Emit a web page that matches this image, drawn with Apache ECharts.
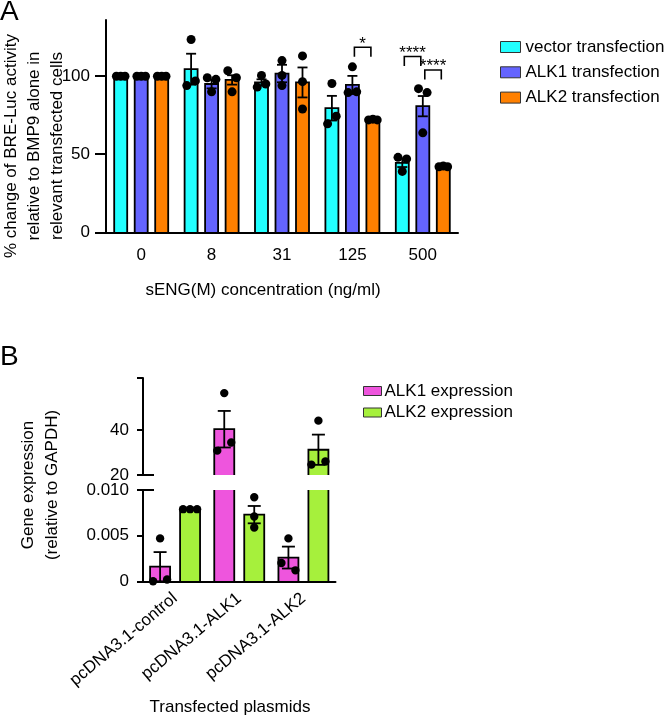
<!DOCTYPE html>
<html><head><meta charset="utf-8">
<script src="https://cdn.jsdelivr.net/npm/echarts@6/dist/echarts.min.js"></script>
<style>html,body{margin:0;padding:0;background:#fff}#c{width:668px;height:721px}</style>
</head><body><div id="c"></div>
<script>
// ---------------- Panel A data ----------------
const catsA = ['0', '8', '31', '125', '500'];
const namesA = ['vector transfection', 'ALK1 transfection', 'ALK2 transfection'];
const vectorMean = [100, 104.5, 96, 79.5, 44.5];
const vectorSem  = [0, 9.9, 2.0, 7.9, 2.7];
const vectorPts  = [[100, 100, 100], [94, 123.5, 97], [93, 100.5, 95], [69.5, 95.3, 74.4], [48, 39, 47]];
const alk1Mean = [100, 95, 101.7, 94.4, 80.8];
const alk1Sem  = [0, 2.8, 5.6, 5.8, 6.5];
const alk1Pts  = [[100, 100, 100], [99, 90, 98], [100.5, 110, 94], [89.5, 106, 90], [92, 63.7, 89.5]];
const alk2Mean = [100, 97.6, 96, 72.3, 42.2];
const alk2Sem  = [0, 3.0, 9.6, 0.3, 0.3];
const alk2Pts  = [[100, 100, 100], [103.5, 90, 99], [79, 113, 96.5], [72, 72.5, 72], [42, 42.5, 42]];
const ticksA = [0, 50, 100];
const sigA = [
  { cat: 3, from: 1, to: 2, level: 118.5, label: '*' },
  { cat: 4, from: 0, to: 1, level: 112.6, label: '****' },
  { cat: 4, from: 1, to: 2, level: 104.0, label: '****' }
];

// ---------------- Panel B data ----------------
const catsB = ['pcDNA3.1-control', 'pcDNA3.1-ALK1', 'pcDNA3.1-ALK2'];
const namesB = ['ALK1 expression', 'ALK2 expression'];
const alk1ExprMean = [0.0016, 40.3, 0.0026];
const alk1ExprSem  = [0.0016, 8.1, 0.0012];
const alk1ExprPts  = [[0, 0.0047, 0.0002], [30.8, 56.3, 34.4], [0.002, 0.0047, 0.0012]];
const alk2ExprMean = [0.0079, 0.0073, 31.2];
const alk2ExprSem  = [0.00003, 0.00095, 6.7];
const alk2ExprPts  = [[0.0079, 0.0079, 0.0079], [0.0059, 0.0092, 0.0071], [24.6, 44.1, 26]];
const ticksBLow = [0, 0.005, 0.010];
const ticksBHigh = [20, 40];

// ---------------- styling ----------------
const FONT = "'Liberation Sans', Arial, Helvetica, sans-serif";
const COL = { vector: '#22FFFF', alk1: '#6464FF', alk2: '#FF8000', pink: '#EE55DD', green: '#A6F03C' };

function clusterOffsets(ys, minDist, step) {
  const off = ys.map(() => 0);
  const idx = ys.map((y, k) => k).filter(k => ys[k] !== null).sort((a, b) => ys[a] - ys[b]);
  const clusters = []; let cur = [];
  idx.forEach(k => {
    if (cur.length && ys[k] - ys[cur[cur.length - 1]] >= minDist) { clusters.push(cur); cur = []; }
    cur.push(k);
  });
  if (cur.length) clusters.push(cur);
  clusters.forEach(c => {
    c.sort((a, b) => a - b);
    const n = c.length;
    c.forEach((k, j) => { off[k] = n === 1 ? 0 : (n === 2 ? (j === 0 ? -step : step) : (j - (n - 1) / 2) * step); });
  });
  return off;
}

function barRenderer(cfg) {
  return function (params, api) {
    const i = params.dataIndex;
    const cs = params.coordSys;
    const top = cs.y, bottom = cs.y + cs.height;
    const cat = api.value(0), mean = api.value(1), sem = api.value(2);
    const band = api.size([1, 0])[0];
    const cx = api.coord([cat, 0])[0] + (cfg.k - (cfg.n - 1) / 2) * band * cfg.pitch;
    const w = band * cfg.width;
    const yOf = v => api.coord([cat, v])[1];
    const ch = [];
    const stroke = { stroke: '#000', lineWidth: cfg.bw };
    const yv = yOf(mean);
    if (yv < bottom - 0.5) {
      const yt = Math.max(yv, top), yb = Math.min(yOf(0), bottom);
      const x1 = cx - w / 2, x2 = cx + w / 2;
      ch.push({ type: 'rect', shape: { x: x1, y: yt, width: w, height: yb - yt }, style: { fill: cfg.color } });
      if (yv >= top) {
        ch.push({ type: 'polyline', shape: { points: [[x1, yb], [x1, yt], [x2, yt], [x2, yb]] }, style: Object.assign({ fill: null, lineJoin: 'miter' }, stroke) });
      } else {
        ch.push({ type: 'line', shape: { x1: x1, y1: yt, x2: x1, y2: yb }, style: stroke });
        ch.push({ type: 'line', shape: { x1: x2, y1: yt, x2: x2, y2: yb }, style: stroke });
      }
    }
    if (sem > 0 && yv >= top - 0.5 && yv <= bottom + 0.5) {
      const yh = Math.max(yOf(mean + sem), top), yl = Math.min(yOf(mean - sem), bottom);
      const c = cfg.cap / 2;
      const es = { stroke: '#000', lineWidth: cfg.ew };
      ch.push({ type: 'line', shape: { x1: cx, y1: yh, x2: cx, y2: yl }, style: es });
      ch.push({ type: 'line', shape: { x1: cx - c, y1: yh, x2: cx + c, y2: yh }, style: es });
      ch.push({ type: 'line', shape: { x1: cx - c, y1: yl, x2: cx + c, y2: yl }, style: es });
    }
    const pts = cfg.pts[i];
    const ys = pts.map(p => { const y = yOf(p); return (y >= top - 1 && y <= bottom + 1) ? y : null; });
    const off = clusterOffsets(ys, cfg.r * 2, cfg.spread);
    ys.forEach((y, k) => {
      if (y !== null) ch.push({ type: 'circle', shape: { cx: cx + off[k], cy: y, r: cfg.r }, style: { fill: '#000' } });
    });
    return { type: 'group', children: ch };
  };
}

function sigRenderer(params, api) {
  const s = sigA[params.dataIndex];
  const band = api.size([1, 0])[0];
  const base = api.coord([s.cat, s.level]);
  const pitch = 20.5 / 70.4;
  const xa = base[0] + (s.from - 1) * band * pitch + 2;
  const xb = base[0] + (s.to - 1) * band * pitch - 2;
  const y = base[1];
  return {
    type: 'group', children: [
      { type: 'polyline', shape: { points: [[xa, y + 9.5], [xa, y], [xb, y], [xb, y + 9.5]] }, style: { stroke: '#000', lineWidth: 1.6, fill: null } },
      { type: 'text', x: (xa + xb) / 2, y: y + 5, style: { text: s.label, fontSize: 17, fontFamily: FONT, fill: '#000', align: 'center', verticalAlign: 'bottom' } }
    ]
  };
}

function breakRenderer(edge) {
  return function (params, api) {
    const cs = params.coordSys;
    const y = edge === 'bottom' ? cs.y + cs.height : cs.y;
    return { type: 'line', shape: { x1: cs.x - 6, y1: y, x2: cs.x + 11, y2: y }, style: { stroke: '#000', lineWidth: 2 } };
  };
}

const toData = (means, sems) => means.map((m, i) => [i, m, sems[i]]);

const seriesA = [
  { name: namesA[0], color: COL.vector, means: vectorMean, sems: vectorSem, pts: vectorPts },
  { name: namesA[1], color: COL.alk1, means: alk1Mean, sems: alk1Sem, pts: alk1Pts },
  { name: namesA[2], color: COL.alk2, means: alk2Mean, sems: alk2Sem, pts: alk2Pts }
].map((s, k) => ({
  type: 'custom', name: s.name, xAxisIndex: 0, yAxisIndex: 0, silent: true,
  itemStyle: { color: s.color },
  data: toData(s.means, s.sems),
  renderItem: barRenderer({ k: k, n: 3, pitch: 20.5 / 70.4, width: 13 / 70.4, color: s.color, bw: 1.8, ew: 1.8, cap: 10, r: 4.5, spread: 4.3, pts: s.pts })
}));

const defsB = [
  { name: namesB[0], color: COL.pink, means: alk1ExprMean, sems: alk1ExprSem, pts: alk1ExprPts },
  { name: namesB[1], color: COL.green, means: alk2ExprMean, sems: alk2ExprSem, pts: alk2ExprPts }
];
const seriesB = [];
[1, 2].forEach(g => {
  defsB.forEach((s, k) => {
    seriesB.push({
      type: 'custom', name: s.name, xAxisIndex: g, yAxisIndex: g, silent: true,
      itemStyle: { color: s.color },
      data: toData(s.means, s.sems),
      renderItem: barRenderer({ k: k, n: 2, pitch: 30 / 64.2, width: 20 / 64.2, color: s.color, bw: 1.8, ew: 1.8, cap: 13, r: 4.2, spread: 7, pts: s.pts })
    });
  });
});

const axisLineStyle = { color: '#000', width: 2 };
const labelStyle = { color: '#000', fontSize: 17, fontFamily: FONT };

const option = {
  backgroundColor: '#fff',
  animation: false,
  textStyle: { fontFamily: FONT },
  grid: [
    { left: 106, width: 352, top: 20, height: 212.3 },
    { left: 143, width: 192.5, top: 378, height: 97 },
    { left: 143, width: 192.5, top: 490, height: 91.3 }
  ],
  xAxis: [
    { type: 'category', gridIndex: 0, data: catsA, z: 5,
      axisLine: { lineStyle: axisLineStyle }, axisTick: { alignWithLabel: true, length: 12, lineStyle: { color: '#000', width: 2 } },
      axisLabel: Object.assign({ margin: 15, interval: 0 }, labelStyle) },
    { type: 'category', gridIndex: 1, data: catsB, show: false },
    { type: 'category', gridIndex: 2, data: catsB, z: 5,
      axisLine: { lineStyle: axisLineStyle }, axisTick: { alignWithLabel: true, length: 10, lineStyle: { color: '#000', width: 2 } },
      axisLabel: Object.assign({ margin: 15, interval: 0, rotate: 40 }, labelStyle) }
  ],
  yAxis: [
    { type: 'value', gridIndex: 0, min: 0, max: 136, splitLine: { show: false },
      axisLine: { show: true, lineStyle: axisLineStyle },
      axisTick: { show: true, length: 11, customValues: ticksA, lineStyle: { color: '#000', width: 2 } },
      axisLabel: Object.assign({ margin: 16, customValues: ticksA }, labelStyle) },
    { type: 'value', gridIndex: 1, min: 20, max: 63, splitLine: { show: false },
      axisLine: { show: true, lineStyle: axisLineStyle },
      axisTick: { show: true, length: 6, customValues: ticksBHigh.concat([63]), lineStyle: { color: '#000', width: 2 } },
      axisLabel: Object.assign({ margin: 14, customValues: ticksBHigh }, labelStyle) },
    { type: 'value', gridIndex: 2, min: 0, max: 0.010, splitLine: { show: false },
      axisLine: { show: true, lineStyle: axisLineStyle },
      axisTick: { show: true, length: 6, customValues: ticksBLow, lineStyle: { color: '#000', width: 2 } },
      axisLabel: Object.assign({ margin: 14, customValues: ticksBLow, formatter: v => v === 0 ? '0' : v.toFixed(3) }, labelStyle) }
  ],
  legend: [
    { orient: 'vertical', left: 495, top: 33, itemWidth: 20, itemHeight: 11, itemGap: 7.3, selectedMode: false,
      data: namesA.map((n, k) => ({ name: n, icon: 'rect', itemStyle: { color: [COL.vector, COL.alk1, COL.alk2][k], borderColor: '#333', borderWidth: 1 } })),
      textStyle: { color: '#000', fontSize: 17, fontFamily: FONT, lineHeight: 18 } },
    { orient: 'vertical', left: 358, top: 377, itemWidth: 18, itemHeight: 9, itemGap: 3.5, selectedMode: false,
      data: namesB.map((n, k) => ({ name: n, icon: 'rect', itemStyle: { color: [COL.pink, COL.green][k], borderColor: '#333', borderWidth: 1 } })),
      textStyle: { color: '#000', fontSize: 17, fontFamily: FONT, lineHeight: 18, padding: [0, 0, 0, -2] } }
  ],
  graphic: [
    { type: 'text', x: 0, y: -2, style: { text: 'A', fontSize: 28, fontFamily: FONT, fill: '#000', verticalAlign: 'top' } },
    { type: 'text', x: 0, y: 343, style: { text: 'B', fontSize: 28, fontFamily: FONT, fill: '#000', verticalAlign: 'top' } },
    { type: 'text', x: 34, y: 146, rotation: Math.PI / 2,
      style: { text: '% change of BRE-Luc activity\nrelative to BMP9 alone in\nrelevant transfected cells', fontSize: 17, lineHeight: 23, fontFamily: FONT, fill: '#000', align: 'center', verticalAlign: 'middle' } },
    { type: 'text', x: 263, y: 290, style: { text: 'sENG(M) concentration (ng/ml)', fontSize: 17, fontFamily: FONT, fill: '#000', align: 'center', verticalAlign: 'middle' } },
    { type: 'text', x: 40, y: 485, rotation: Math.PI / 2,
      style: { text: 'Gene expression\n(relative to GAPDH)', fontSize: 17, lineHeight: 23.7, fontFamily: FONT, fill: '#000', align: 'center', verticalAlign: 'middle' } },
    { type: 'text', x: 230, y: 707, style: { text: 'Transfected plasmids', fontSize: 17, fontFamily: FONT, fill: '#000', align: 'center', verticalAlign: 'middle' } }
  ],
  series: seriesA.concat([
    { type: 'custom', name: 'sig', xAxisIndex: 0, yAxisIndex: 0, silent: true, z: 6,
      data: sigA.map(s => [s.cat, s.level, s.from, s.to]), renderItem: sigRenderer },
    { type: 'custom', name: 'breakHigh', xAxisIndex: 1, yAxisIndex: 1, silent: true, z: 6, data: [[0, 20]], renderItem: breakRenderer('bottom') },
    { type: 'custom', name: 'breakLow', xAxisIndex: 2, yAxisIndex: 2, silent: true, z: 6, data: [[0, 0]], renderItem: breakRenderer('top') }
  ]).concat(seriesB)
};

const chart = echarts.init(document.getElementById('c'));
chart.setOption(option);
</script>
</body></html>
